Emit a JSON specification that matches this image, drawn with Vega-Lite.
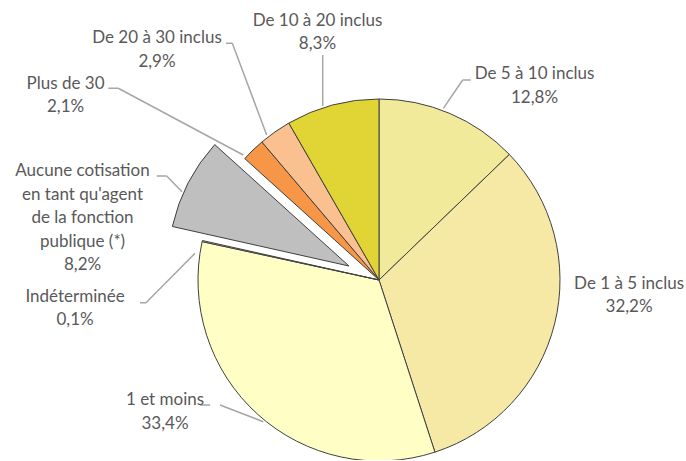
{
  "$schema": "https://vega.github.io/schema/vega-lite/v6.json",
  "width": 614,
  "height": 360,
  "autosize": "none",
  "padding": {"left": 72, "top": 100, "right": 0, "bottom": 0},
  "background": "white",
  "config": {
    "view": {"stroke": null},
    "text": {"font": "Lato", "fontSize": 17, "fill": "#595959", "lineHeight": 23.5, "lineBreak": "\n", "align": "center", "baseline": "middle"},
    "arc": {"strokeCap": "butt"}
  },
  "data": {
    "values": [
      {"ord": 1, "cat": "De 5 à 10 inclus", "value": 12.8, "label": "De 5 à 10 inclus\n12,8%"},
      {"ord": 2, "cat": "De 1 à 5 inclus", "value": 32.2, "label": "De 1 à 5 inclus\n32,2%"},
      {"ord": 3, "cat": "1 et moins", "value": 33.4, "label": "1 et moins\n33,4%"},
      {"ord": 4, "cat": "Indéterminée", "value": 0.1, "label": "Indéterminée\n0,1%"},
      {"ord": 5, "cat": "Aucune cotisation en tant qu'agent de la fonction publique (*)", "value": 8.2, "label": "Aucune cotisation\nen tant qu'agent\nde la fonction\npublique (*)\n8,2%"},
      {"ord": 6, "cat": "Plus de 30", "value": 2.1, "label": "Plus de 30\n2,1%"},
      {"ord": 7, "cat": "De 20 à 30 inclus", "value": 2.9, "label": "De 20 à 30 inclus\n2,9%"},
      {"ord": 8, "cat": "De 10 à 20 inclus", "value": 8.3, "label": "De 10 à 20 inclus\n8,3%"}
    ]
  },
  "transform": [
    {"stack": "value", "groupby": [], "sort": [{"field": "ord", "order": "ascending"}], "as": ["s0", "s1"]}
  ],
  "layer": [
    {
      "transform": [{"filter": "datum.ord !== 5"}],
      "mark": {"type": "arc", "outerRadius": 181, "stroke": "#404040", "strokeWidth": 1},
      "encoding": {
        "theta": {"field": "s0", "type": "quantitative", "stack": null, "scale": {"domain": [0, 100]}},
        "theta2": {"field": "s1"},
        "color": {"field": "cat", "type": "nominal", "legend": null,
          "scale": {"domain": ["De 5 à 10 inclus", "De 1 à 5 inclus", "1 et moins", "Indéterminée", "Aucune cotisation en tant qu'agent de la fonction publique (*)", "Plus de 30", "De 20 à 30 inclus", "De 10 à 20 inclus"],
                    "range": ["#F1EA9B", "#F5E9A5", "#FFFEC5", "#D9D9D9", "#BFBFBF", "#F79646", "#FAC090", "#E0D535"]}}
      }
    },
    {
      "transform": [{"filter": "datum.ord === 5"}],
      "mark": {"type": "arc", "outerRadius": 181, "stroke": "#404040", "strokeWidth": 1, "xOffset": -30, "yOffset": -14},
      "encoding": {
        "theta": {"field": "s0", "type": "quantitative", "stack": null, "scale": {"domain": [0, 100]}},
        "theta2": {"field": "s1"},
        "color": {"field": "cat", "type": "nominal", "legend": null}
      }
    },
    {
      "transform": [{"filter": "datum.ord === 8"}],
      "mark": {"type": "arc", "filled": false, "stroke": "#A6A6A6", "strokeWidth": 1.5, "innerRadius": 20, "outerRadius": 71, "thetaOffset": 0.5215, "theta2Offset": 0.5215, "xOffset": -56.3, "yOffset": -154},
      "encoding": {"theta": {"field": "s0", "type": "quantitative", "stack": null}, "theta2": {"field": "s0"}}
    },
    {
      "transform": [{"filter": "datum.ord === 7"}],
      "mark": {"type": "arc", "filled": false, "stroke": "#A6A6A6", "strokeWidth": 1.5, "innerRadius": 20, "outerRadius": 117.9, "thetaOffset": 0.3449, "theta2Offset": 0.3449, "xOffset": -105.3, "yOffset": -126.3},
      "encoding": {"theta": {"field": "s0", "type": "quantitative", "stack": null}, "theta2": {"field": "s0"}}
    },
    {
      "transform": [{"filter": "datum.ord === 7"}],
      "mark": {"type": "arc", "filled": false, "stroke": "#A6A6A6", "strokeWidth": 1.5, "innerRadius": 20, "outerRadius": 26.3, "thetaOffset": -0.8671, "theta2Offset": -0.8671, "xOffset": -126.7, "yOffset": -236.7},
      "encoding": {"theta": {"field": "s0", "type": "quantitative", "stack": null}, "theta2": {"field": "s0"}}
    },
    {
      "transform": [{"filter": "datum.ord === 6"}],
      "mark": {"type": "arc", "filled": false, "stroke": "#A6A6A6", "strokeWidth": 1.5, "innerRadius": 20, "outerRadius": 161.7, "thetaOffset": -0.245, "theta2Offset": -0.245, "xOffset": -118.1, "yOffset": -115.6},
      "encoding": {"theta": {"field": "s0", "type": "quantitative", "stack": null}, "theta2": {"field": "s0"}}
    },
    {
      "transform": [{"filter": "datum.ord === 6"}],
      "mark": {"type": "arc", "filled": false, "stroke": "#A6A6A6", "strokeWidth": 1.5, "innerRadius": 20, "outerRadius": 30, "thetaOffset": -0.7351, "theta2Offset": -0.7351, "xOffset": -240.7, "yOffset": -191.7},
      "encoding": {"theta": {"field": "s0", "type": "quantitative", "stack": null}, "theta2": {"field": "s0"}}
    },
    {
      "transform": [{"filter": "datum.ord === 1"}],
      "mark": {"type": "arc", "filled": false, "stroke": "#A6A6A6", "strokeWidth": 1.5, "innerRadius": 20, "outerRadius": 54.3, "thetaOffset": 0.6009, "theta2Offset": 0.6009, "xOffset": 53, "yOffset": -155.2},
      "encoding": {"theta": {"field": "s0", "type": "quantitative", "stack": null}, "theta2": {"field": "s0"}}
    },
    {
      "transform": [{"filter": "datum.ord === 1"}],
      "mark": {"type": "arc", "filled": false, "stroke": "#A6A6A6", "strokeWidth": 1.5, "innerRadius": 20, "outerRadius": 28, "thetaOffset": 1.5708, "theta2Offset": 1.5708, "xOffset": 63.7, "yOffset": -200},
      "encoding": {"theta": {"field": "s0", "type": "quantitative", "stack": null}, "theta2": {"field": "s0"}}
    },
    {
      "transform": [{"filter": "datum.ord === 5"}],
      "mark": {"type": "arc", "filled": false, "stroke": "#A6A6A6", "strokeWidth": 1.5, "innerRadius": 20, "outerRadius": 41.9, "thetaOffset": 0.5784, "theta2Offset": 0.5784, "xOffset": -183.04, "yOffset": -74},
      "encoding": {"theta": {"field": "s0", "type": "quantitative", "stack": null}, "theta2": {"field": "s0"}}
    },
    {
      "transform": [{"filter": "datum.ord === 5"}],
      "mark": {"type": "arc", "filled": false, "stroke": "#A6A6A6", "strokeWidth": 1.5, "innerRadius": 20, "outerRadius": 30, "thetaOffset": -0.2199, "theta2Offset": -0.2199, "xOffset": -192.3, "yOffset": -104},
      "encoding": {"theta": {"field": "s0", "type": "quantitative", "stack": null}, "theta2": {"field": "s0"}}
    },
    {
      "transform": [{"filter": "datum.ord === 4"}],
      "mark": {"type": "arc", "filled": false, "stroke": "#A6A6A6", "strokeWidth": 1.5, "innerRadius": 20, "outerRadius": 89.6, "thetaOffset": -1.0032, "theta2Offset": -1.0032, "xOffset": -169.92, "yOffset": -40.9},
      "encoding": {"theta": {"field": "s0", "type": "quantitative", "stack": null}, "theta2": {"field": "s0"}}
    },
    {
      "transform": [{"filter": "datum.ord === 4"}],
      "mark": {"type": "arc", "filled": false, "stroke": "#A6A6A6", "strokeWidth": 1.5, "innerRadius": 20, "outerRadius": 26, "thetaOffset": -0.2136, "theta2Offset": -0.2136, "xOffset": -213, "yOffset": 22.7},
      "encoding": {"theta": {"field": "s0", "type": "quantitative", "stack": null}, "theta2": {"field": "s0"}}
    },
    {
      "transform": [{"filter": "datum.ord === 3"}],
      "mark": {"type": "arc", "filled": false, "stroke": "#A6A6A6", "strokeWidth": 1.5, "innerRadius": 20, "outerRadius": 66.4, "thetaOffset": 2.253, "theta2Offset": 2.253, "xOffset": -97.04, "yOffset": 148.9},
      "encoding": {"theta": {"field": "s0", "type": "quantitative", "stack": null}, "theta2": {"field": "s0"}}
    },
    {
      "transform": [{"filter": "datum.ord === 3"}],
      "mark": {"type": "arc", "filled": false, "stroke": "#A6A6A6", "strokeWidth": 1.5, "innerRadius": 20, "outerRadius": 30, "thetaOffset": 1.885, "theta2Offset": 1.885, "xOffset": -149, "yOffset": 125},
      "encoding": {"theta": {"field": "s0", "type": "quantitative", "stack": null}, "theta2": {"field": "s0"}}
    },
    {
      "transform": [{"filter": "datum.ord === 1"}],
      "mark": {"type": "text", "radius": 200, "dx": 155.5, "dy": -5.75},
      "encoding": {"theta": {"field": "s0", "type": "quantitative", "stack": null}, "text": {"field": "label"}}
    },
    {
      "transform": [{"filter": "datum.ord === 2"}],
      "mark": {"type": "text", "radius": 200, "dx": 106, "dy": 142.45},
      "encoding": {"theta": {"field": "s0", "type": "quantitative", "stack": null}, "text": {"field": "label"}}
    },
    {
      "transform": [{"filter": "datum.ord === 3"}],
      "mark": {"type": "text", "radius": 200, "dx": -275.8, "dy": -69.95},
      "encoding": {"theta": {"field": "s0", "type": "quantitative", "stack": null}, "text": {"field": "label"}}
    },
    {
      "transform": [{"filter": "datum.ord === 4"}],
      "mark": {"type": "text", "radius": 200, "dx": -108.5, "dy": 59.15},
      "encoding": {"theta": {"field": "s0", "type": "quantitative", "stack": null}, "text": {"field": "label"}}
    },
    {
      "transform": [{"filter": "datum.ord === 5"}],
      "mark": {"type": "text", "radius": 200, "dx": -101.3, "dy": -64.9},
      "encoding": {"theta": {"field": "s0", "type": "quantitative", "stack": null}, "text": {"field": "label"}}
    },
    {
      "transform": [{"filter": "datum.ord === 6"}],
      "mark": {"type": "text", "radius": 200, "dx": -165.1, "dy": -62.15},
      "encoding": {"theta": {"field": "s0", "type": "quantitative", "stack": null}, "text": {"field": "label"}}
    },
    {
      "transform": [{"filter": "datum.ord === 7"}],
      "mark": {"type": "text", "radius": 200, "dx": -92.6, "dy": -89.25},
      "encoding": {"theta": {"field": "s0", "type": "quantitative", "stack": null}, "text": {"field": "label"}}
    },
    {
      "transform": [{"filter": "datum.ord === 8"}],
      "mark": {"type": "text", "radius": 200, "dx": 38.1, "dy": -85.85},
      "encoding": {"theta": {"field": "s0", "type": "quantitative", "stack": null}, "text": {"field": "label"}}
    }
  ]
}
